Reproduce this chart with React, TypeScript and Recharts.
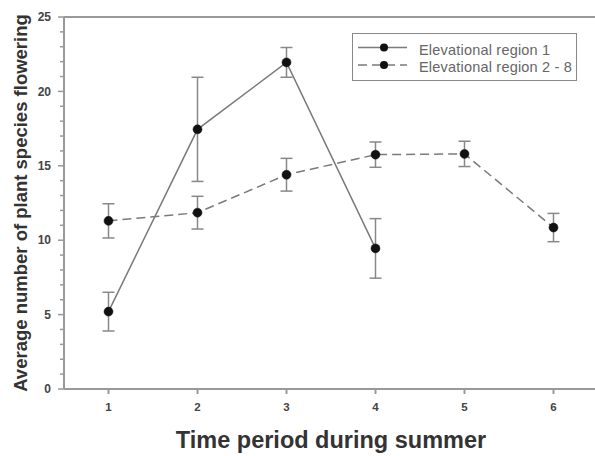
import React from "react";
import {
  ComposedChart,
  Line,
  XAxis,
  YAxis,
  ErrorBar,
  ReferenceLine,
  Legend,
  Label,
} from "recharts";

const periods = [1, 2, 3, 4, 5, 6];
const region1 = [5.2, 17.45, 21.95, 9.45, null, null];
const region1Err = [1.3, 3.5, 1.0, 2.0, null, null];
const region2 = [11.3, 11.85, 14.4, 15.75, 15.8, 10.85];
const region2Err = [1.15, 1.1, 1.1, 0.85, 0.85, 0.95];
const yTicks = Array.from({ length: 26 }, (_, i) => i);
const xTicks = [1, 2, 3, 4, 5, 6];

const data = periods.map((p, i) => ({
  period: p,
  r1: region1[i],
  r1err: region1Err[i],
  r2: region2[i],
  r2err: region2Err[i],
}));

const FONT = '"Liberation Sans", Arial, sans-serif';
const AXIS = "#999";
const LINE = "#7a7a7a";
const DOT = "#111";

const YTick = (props: any) => {
  const { x, y, payload } = props;
  const major = payload.value % 5 === 0;
  return (
    <g>
      <line x1={x} x2={x - (major ? 6 : 4)} y1={y} y2={y} stroke={AXIS} strokeWidth={1.5} />
      {major && (
        <text
          x={x - 13}
          y={y}
          dy="0.35em"
          textAnchor="end"
          fontFamily={FONT}
          fontWeight="bold"
          fontSize={12}
          fill="#444"
        >
          {payload.value}
        </text>
      )}
    </g>
  );
};

const legendItems = [
  { label: "Elevational region 1", dash: undefined },
  { label: "Elevational region 2 - 8", dash: "9 5" },
];

const LegendBox = () => (
  <svg width={226} height={50}>
    <rect x={0.5} y={0.5} width={224} height={47} fill="#fff" stroke="#888" strokeWidth={1} />
    {legendItems.map((it, i) => {
      const y = 14.5 + i * 17.5;
      return (
        <g key={it.label}>
          <line x1={6} x2={55} y1={y} y2={y} stroke={LINE} strokeWidth={1.5} strokeDasharray={it.dash} />
          <circle cx={32} cy={y} r={4} fill={DOT} />
          <text
            x={67}
            y={y + 2}
            dy="0.35em"
            fontFamily={FONT}
            fontSize={14.5}
            letterSpacing={0.2}
            fill="#666"
          >
            {it.label}
          </text>
        </g>
      );
    })}
  </svg>
);

export default function App() {
  return (
    <div
      style={{
        position: "absolute",
        left: 0,
        top: 0,
        width: 595,
        height: 456,
        overflow: "hidden",
        background: "#fff",
      }}
    >
      <ComposedChart
        width={598}
        height={456}
        data={data}
        margin={{ top: 17, right: 0, bottom: 0, left: 0 }}
      >
        <XAxis
          dataKey="period"
          type="number"
          domain={[0.5, 6.5]}
          ticks={xTicks}
          allowDataOverflow
          height={67}
          stroke={AXIS}
          strokeWidth={2}
          tickSize={5}
          tickMargin={9}
          tick={{ fill: "#444", fontSize: 11.5, fontWeight: "bold", fontFamily: FONT }}
        >
          <Label
            content={({ viewBox }: any) => (
              <text
                x={viewBox.x + viewBox.width / 2}
                y={viewBox.y + 59}
                textAnchor="middle"
                fontFamily={FONT}
                fontWeight="bold"
                fontSize={23.5}
                fill="#333"
              >
                Time period during summer
              </text>
            )}
          />
        </XAxis>
        <YAxis
          type="number"
          domain={[0, 25]}
          ticks={yTicks}
          interval={0}
          width={64}
          stroke={AXIS}
          strokeWidth={2}
          tickSize={0}
          tickMargin={0}
          tickLine={false}
          tick={<YTick />}
        >
          <Label
            content={({ viewBox }: any) => {
              const cx = 20;
              const cy = viewBox.y + viewBox.height / 2;
              return (
                <text
                  x={cx}
                  y={cy}
                  transform={`rotate(-90 ${cx} ${cy})`}
                  dominantBaseline="central"
                  textAnchor="middle"
                  fontFamily={FONT}
                  fontWeight="bold"
                  fontSize={18.5}
                  fill="#333"
                >
                  Average number of plant species flowering
                </text>
              );
            }}
          />
        </YAxis>
        <ReferenceLine y={25} stroke={AXIS} strokeWidth={2} />
        <Legend
          layout="vertical"
          align="center"
          verticalAlign="middle"
          wrapperStyle={{ left: 352, top: 33, width: 226 }}
          content={() => <LegendBox />}
        />
        <Line
          dataKey="r1"
          type="linear"
          stroke={LINE}
          strokeWidth={1.5}
          dot={{ r: 4.5, fill: DOT, stroke: DOT, strokeWidth: 0.5 }}
          isAnimationActive={false}
          name="Elevational region 1"
        >
          <ErrorBar dataKey="r1err" direction="y" width={6} stroke="#888" strokeWidth={1.5} />
        </Line>
        <Line
          dataKey="r2"
          type="linear"
          stroke={LINE}
          strokeWidth={1.5}
          strokeDasharray="9 5"
          dot={{ r: 4.5, fill: DOT, stroke: DOT, strokeWidth: 0.5, strokeDasharray: "" }}
          isAnimationActive={false}
          name="Elevational region 2 - 8"
        >
          <ErrorBar dataKey="r2err" direction="y" width={6} stroke="#888" strokeWidth={1.5} />
        </Line>
      </ComposedChart>
    </div>
  );
}
